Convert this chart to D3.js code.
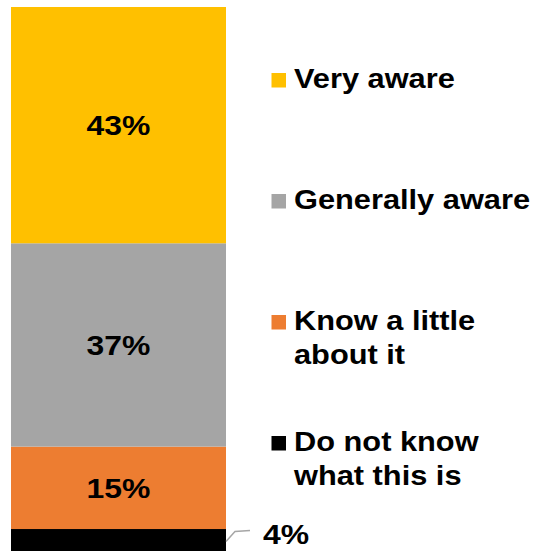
<!DOCTYPE html>
<html>
<head>
<meta charset="utf-8">
<script src="https://cdn.jsdelivr.net/npm/d3@7"></script>
<style>
  html, body { margin: 0; padding: 0; background: #fff; }
  svg { display: block; }
  text { font-family: "Liberation Sans", Arial, sans-serif; font-weight: bold; fill: #000; }
</style>
</head>
<body>
<svg id="chart" width="539" height="551"></svg>
<script>
// Awareness levels, bottom of the stack first
const categories = ["Do not know what this is", "Know a little about it", "Generally aware", "Very aware"];
const values = [4, 15, 37, 43];
const colors = ["#000000", "#ED7D31", "#A5A5A5", "#FFC000"];
// Legend wording, split into lines as printed
const legendLines = [["Do not know", "what this is"], ["Know a little", "about it"], ["Generally aware"], ["Very aware"]];
const valueLabels = values.map(v => v + "%");

const svg = d3.select("#chart");
const stretch = 1.12;       // wide lettering for value labels
const legendStretch = 1.14; // and for legend text

const row = {};
categories.forEach((c, i) => { row[c] = values[i]; });
const stacked = d3.stack().keys(categories)([row]);

const x = d3.scaleBand().domain(["all"]).range([11, 226]).padding(0);
const y = d3.scaleLinear().domain([0, d3.sum(values)]).range([551, 7]);

const g = svg.append("g");

g.selectAll("rect.seg")
  .data(stacked)
  .join("rect")
  .attr("class", "seg")
  .attr("x", x("all"))
  .attr("width", x.bandwidth())
  .attr("y", d => y(d[0][1]))
  .attr("height", d => y(d[0][0]) - y(d[0][1]))
  .attr("fill", (d, i) => colors[i]);

// Labels inside the larger segments
const fs = 28.5;
stacked.forEach((d, i) => {
  const mid = (y(d[0][0]) + y(d[0][1])) / 2;
  if (values[i] >= 10) {
    g.append("text")
      .attr("transform", `translate(${x("all") + x.bandwidth() / 2},${mid + fs * 0.35}) scale(${stretch},1)`)
      .attr("text-anchor", "middle")
      .style("font-size", fs + "px")
      .text(valueLabels[i]);
  } else {
    // Small segment: label outside with a leader line
    const x0 = x("all") + x.bandwidth();
    g.append("path")
      .attr("d", `M${x0},${mid + 1.5}L${x0 + 9},${mid - 8.5}L${x0 + 24},${mid - 9.5}`)
      .attr("fill", "none")
      .attr("stroke", "#A6A6A6")
      .attr("stroke-width", 1.5);
    g.append("text")
      .attr("transform", `translate(${x0 + 37},${mid + 3.5}) scale(${stretch},1)`)
      .attr("text-anchor", "start")
      .style("font-size", fs + "px")
      .text(valueLabels[i]);
  }
});

// Legend, top entry first
const legendTop = 88, legendStep = 121, lineH = 34;
const order = d3.range(categories.length).reverse();
order.forEach((i, k) => {
  const base = legendTop + k * legendStep;
  const lg = svg.append("g");
  lg.append("rect")
    .attr("x", 271.5)
    .attr("y", base - 15)
    .attr("width", 14.5)
    .attr("height", 14.5)
    .attr("fill", colors[i]);
  legendLines[i].forEach((ln, j) => {
    lg.append("text")
      .attr("transform", `translate(294,${base + j * lineH}) scale(${legendStretch},1)`)
      .style("font-size", "27px")
      .text(ln);
  });
});
</script>
</body>
</html>
